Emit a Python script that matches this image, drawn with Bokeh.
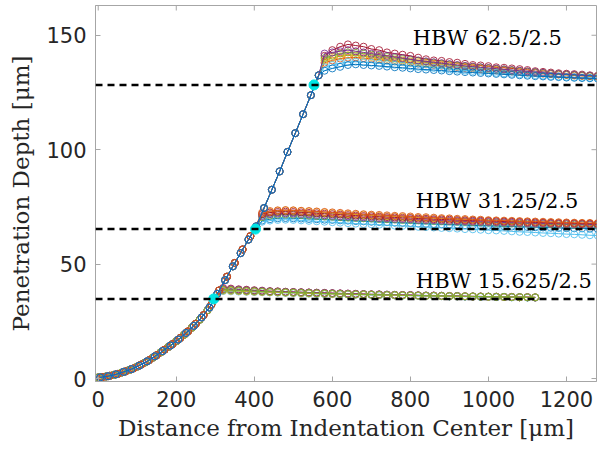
from bokeh.plotting import figure
from bokeh.models import FixedTicker, Range1d, Span
from bokeh.embed import file_html
from bokeh.resources import INLINE
from bokeh.core.properties import value

# ---------------- data ----------------
# loading curve read at three interleaved sample grids (one per test group)
RISE_X_A = list(range(0, 301, 20))            # 15.625 group
RISE_A = [0.5, 0.9, 1.6, 2.6, 3.8, 5.2, 7.0, 9.1, 11.4, 13.8, 16.3, 19.1, 22.2, 25.7, 29.8, 35.0]
RISE_X_B = list(range(10, 391, 20))           # 31.25 group
RISE_B = [0.6, 1.2, 2.0, 3.1, 4.4, 6.1, 8.0, 10.2, 12.6, 15.0, 17.7, 20.6, 23.9, 27.7, 32.3,
          38.5, 44.5, 50.5, 56.4, 62.2]
RISE_X_C = list(range(5, 566, 20))            # 62.5 group
RISE_C = [0.5, 1.0, 1.8, 2.9, 4.1, 5.6, 7.5, 9.7, 12.0, 14.4, 17.0, 19.9, 23.0, 26.7, 31.0,
          37.0, 43.0, 49.0, 54.8, 60.7, 66.5, 74.5, 82.5, 90.5, 99.0, 107.2, 115.5, 123.8, 132.5]

PLAT_X_15 = list(range(320, 1121, 20))
PLAT_X_31 = list(range(420, 1281, 20))
PLAT_X_62 = list(range(580, 1281, 20))

COLORS = {"blue": "#0072BD", "orange": "#D95319", "yellow": "#EDB120", "purple": "#7E2F8E",
          "green": "#77AC30", "lblue": "#4DBEEE", "red": "#A2142F"}

# HBW 15.625/2.5 plateau
P15 = {
    "blue":   [38.6, 38.5, 38.3, 38.2, 38.0, 37.9, 37.8, 37.7, 37.6, 37.5, 37.4, 37.3, 37.2, 37.1, 37.0, 36.9, 36.8, 36.8, 36.7, 36.6, 36.5, 36.5, 36.4, 36.3, 36.3, 36.2, 36.1, 36.1, 36.0, 35.9, 35.9, 35.8, 35.8, 35.7, 35.7, 35.6, 35.6, 35.5, 35.5, 35.4, 35.4],
    "orange": [39.0, 38.8, 38.6, 38.4, 38.3, 38.1, 38.0, 37.9, 37.8, 37.7, 37.6, 37.5, 37.4, 37.3, 37.2, 37.1, 37.0, 36.9, 36.8, 36.7, 36.7, 36.6, 36.5, 36.4, 36.4, 36.3, 36.2, 36.2, 36.1, 36.0, 36.0, 35.9, 35.9, 35.8, 35.8, 35.7, 35.6, 35.6, 35.5, 35.5, 35.4],
    "red":    [39.6, 39.3, 39.0, 38.8, 38.6, 38.4, 38.2, 38.1, 37.9, 37.8, 37.7, 37.6, 37.5, 37.4, 37.3, 37.2, 37.1, 37.0, 36.9, 36.8, 36.7, 36.6, 36.5, 36.5, 36.4, 36.3, 36.2, 36.2, 36.1, 36.0, 36.0, 35.9, 35.8, 35.8, 35.7, 35.7, 35.6, 35.6, 35.5, 35.5, 35.4],
    "purple": [39.2, 39.0, 38.8, 38.6, 38.4, 38.3, 38.1, 38.0, 37.9, 37.8, 37.7, 37.6, 37.5, 37.4, 37.3, 37.2, 37.1, 37.0, 36.9, 36.8, 36.8, 36.7, 36.6, 36.5, 36.5, 36.4, 36.3, 36.3, 36.2, 36.1, 36.1, 36.0, 35.9, 35.9, 35.8, 35.8, 35.7, 35.7, 35.6, 35.6, 35.5],
    "lblue":  [38.2, 38.1, 38.0, 37.9, 37.8, 37.7, 37.6, 37.5, 37.4, 37.3, 37.2, 37.1, 37.0, 36.9, 36.9, 36.8, 36.7, 36.6, 36.6, 36.5, 36.4, 36.4, 36.3, 36.2, 36.2, 36.1, 36.1, 36.0, 36.0, 35.9, 35.9, 35.8, 35.8, 35.7, 35.7, 35.6, 35.6, 35.5, 35.5, 35.4, 35.4],
    "yellow": [38.4, 38.3, 38.2, 38.0, 37.9, 37.8, 37.7, 37.6, 37.5, 37.4, 37.3, 37.2, 37.1, 37.0, 36.9, 36.9, 36.8, 36.7, 36.6, 36.6, 36.5, 36.4, 36.4, 36.3, 36.2, 36.2, 36.1, 36.1, 36.0, 36.0, 35.9, 35.9, 35.8, 35.8, 35.7, 35.7, 35.6, 35.6, 35.5, 35.5, 35.5],
    "green":  [38.8, 38.7, 38.5, 38.3, 38.2, 38.0, 37.9, 37.8, 37.7, 37.6, 37.5, 37.4, 37.3, 37.2, 37.1, 37.0, 36.9, 36.8, 36.8, 36.7, 36.6, 36.5, 36.5, 36.4, 36.3, 36.3, 36.2, 36.1, 36.1, 36.0, 36.0, 35.9, 35.9, 35.8, 35.8, 35.7, 35.7, 35.6, 35.6, 35.5, 35.5],
}

# HBW 31.25/2.5 plateau
P31 = {
    "blue":   [69.0, 69.6, 70.0, 70.1, 70.0, 69.9, 69.7, 69.6, 69.4, 69.3, 69.1, 69.0, 68.8, 68.7, 68.5, 68.4, 68.3, 68.1, 68.0, 67.9, 67.7, 67.6, 67.5, 67.4, 67.3, 67.2, 67.0, 66.9, 66.8, 66.7, 66.6, 66.5, 66.4, 66.3, 66.2, 66.1, 66.0, 65.9, 65.8, 65.7, 65.6, 65.6, 65.5, 65.4],
    "lblue":  [68.5, 69.0, 69.3, 69.4, 69.3, 69.1, 68.9, 68.7, 68.5, 68.3, 68.1, 67.9, 67.7, 67.5, 67.4, 67.2, 67.0, 66.8, 66.7, 66.5, 66.3, 66.2, 66.0, 65.8, 65.7, 65.5, 65.3, 65.2, 65.0, 64.8, 64.7, 64.5, 64.3, 64.1, 64.0, 63.8, 63.6, 63.5, 63.3, 63.1, 63.0, 62.8, 62.6, 62.5],
    "green":  [70.5, 71.2, 71.6, 71.7, 71.6, 71.4, 71.2, 71.0, 70.8, 70.7, 70.5, 70.3, 70.2, 70.0, 69.9, 69.7, 69.6, 69.5, 69.3, 69.2, 69.1, 69.0, 68.8, 68.7, 68.6, 68.5, 68.4, 68.3, 68.2, 68.1, 68.0, 67.9, 67.8, 67.7, 67.7, 67.6, 67.5, 67.4, 67.4, 67.3, 67.2, 67.2, 67.1, 67.0],
    "purple": [71.0, 71.8, 72.1, 72.2, 72.1, 71.9, 71.7, 71.5, 71.3, 71.1, 70.9, 70.8, 70.6, 70.4, 70.3, 70.1, 70.0, 69.8, 69.7, 69.6, 69.4, 69.3, 69.2, 69.0, 68.9, 68.8, 68.7, 68.6, 68.5, 68.4, 68.3, 68.2, 68.1, 68.0, 67.9, 67.8, 67.8, 67.7, 67.6, 67.5, 67.5, 67.4, 67.3, 67.3],
    "yellow": [72.0, 72.8, 73.3, 73.5, 73.4, 73.2, 73.0, 72.8, 72.6, 72.3, 72.1, 71.9, 71.7, 71.5, 71.3, 71.1, 70.9, 70.8, 70.6, 70.4, 70.3, 70.1, 70.0, 69.8, 69.7, 69.5, 69.4, 69.3, 69.1, 69.0, 68.9, 68.8, 68.7, 68.6, 68.5, 68.4, 68.3, 68.2, 68.1, 68.0, 67.9, 67.9, 67.8, 67.7],
    "red":    [71.8, 72.5, 72.8, 72.9, 72.8, 72.6, 72.4, 72.2, 72.0, 71.8, 71.6, 71.4, 71.2, 71.0, 70.9, 70.7, 70.5, 70.4, 70.2, 70.1, 69.9, 69.8, 69.6, 69.5, 69.4, 69.2, 69.1, 69.0, 68.9, 68.8, 68.7, 68.6, 68.5, 68.4, 68.3, 68.2, 68.1, 68.0, 67.9, 67.9, 67.8, 67.7, 67.7, 67.6],
    "orange": [72.5, 73.2, 73.5, 73.6, 73.5, 73.3, 73.2, 73.0, 72.8, 72.6, 72.4, 72.2, 72.0, 71.8, 71.6, 71.5, 71.3, 71.1, 71.0, 70.8, 70.6, 70.5, 70.3, 70.1, 70.0, 69.8, 69.7, 69.5, 69.4, 69.2, 69.1, 69.0, 68.9, 68.8, 68.7, 68.6, 68.5, 68.4, 68.3, 68.2, 68.1, 68.0, 68.0, 67.9],
}

# HBW 62.5/2.5 plateau
P62 = {
    "red":    [141.0, 143.5, 145.0, 146.0, 145.5, 145.0, 144.0, 143.5, 142.5, 142.0, 141.5, 141.0, 140.2, 139.5, 139.0, 138.8, 138.3, 138.0, 137.5, 137.0, 136.8, 136.5, 136.0, 135.8, 135.5, 135.2, 134.8, 134.3, 134.0, 133.7, 133.4, 133.2, 133.0, 132.8, 132.5, 132.3],
    "orange": [138.0, 139.0, 139.8, 140.2, 140.3, 140.0, 139.7, 139.3, 139.0, 138.6, 138.3, 138.0, 137.6, 137.3, 137.0, 136.7, 136.4, 136.1, 135.8, 135.5, 135.2, 135.0, 134.7, 134.4, 134.2, 134.0, 133.7, 133.5, 133.2, 133.0, 132.8, 132.6, 132.4, 132.2, 132.1, 131.9],
    "yellow": [139.0, 140.0, 140.8, 141.3, 141.2, 140.9, 140.5, 140.1, 139.7, 139.3, 139.0, 138.6, 138.2, 137.8, 137.5, 137.1, 136.8, 136.5, 136.2, 135.9, 135.6, 135.3, 135.0, 134.8, 134.5, 134.2, 134.0, 133.7, 133.5, 133.2, 133.0, 132.8, 132.6, 132.4, 132.2, 132.1],
    "green":  [140.0, 141.0, 142.0, 142.5, 142.3, 142.0, 141.5, 141.0, 140.5, 140.0, 139.6, 139.2, 138.8, 138.4, 138.0, 137.6, 137.2, 136.8, 136.5, 136.2, 135.9, 135.6, 135.3, 135.0, 134.7, 134.4, 134.1, 133.8, 133.5, 133.2, 133.0, 132.8, 132.6, 132.4, 132.2, 132.0],
    "lblue":  [136.0, 137.0, 137.8, 138.3, 138.4, 138.2, 138.0, 137.7, 137.4, 137.1, 136.8, 136.5, 136.2, 136.0, 135.7, 135.4, 135.1, 134.9, 134.6, 134.4, 134.1, 133.9, 133.6, 133.4, 133.2, 133.0, 132.8, 132.6, 132.4, 132.2, 132.0, 131.8, 131.7, 131.5, 131.4, 131.3],
    "purple": [142.0, 142.5, 143.0, 143.5, 143.0, 142.5, 142.0, 141.5, 141.0, 140.5, 140.0, 139.5, 139.0, 138.6, 138.2, 137.8, 137.4, 137.0, 136.6, 136.3, 136.0, 135.7, 135.4, 135.1, 134.8, 134.5, 134.2, 133.9, 133.6, 133.3, 133.1, 132.9, 132.7, 132.5, 132.3, 132.1],
    "blue":   [134.5, 135.5, 136.2, 137.0, 137.3, 137.0, 136.8, 136.6, 136.3, 136.0, 135.8, 135.5, 135.2, 135.0, 134.8, 134.6, 134.3, 134.1, 133.9, 133.7, 133.5, 133.3, 133.1, 132.9, 132.7, 132.5, 132.3, 132.1, 132.0, 131.8, 131.7, 131.5, 131.4, 131.3, 131.2, 131.1],
}

# transition points and reference depths
KEY_X = [296, 403, 553]
KEY_Y = [34.8, 65.3, 128.3]

LABELS = ["HBW 62.5/2.5", "HBW 31.25/2.5", "HBW 15.625/2.5"]
LABEL_X = [806, 814, 814]
LABEL_Y = [149, 77.5, 42.8]

X_TICKS = [0, 200, 400, 600, 800, 1000, 1200]
Y_TICKS = [0, 50, 100, 150]
X_MIN, X_MAX = -7, 1277
Y_MIN, Y_MAX = -1.3, 163

# ---------------- figure ----------------
AX_GRAY = "#a6a6a6"
TXT = "#262626"

p = figure(width=603, height=455, output_backend="svg", toolbar_location=None,
           x_range=Range1d(X_MIN, X_MAX), y_range=Range1d(Y_MIN, Y_MAX),
           min_border_left=95, min_border_right=7, min_border_top=5, min_border_bottom=74,
           background_fill_color="white", border_fill_color="white")
p.grid.visible = False
p.outline_line_color = AX_GRAY

for ax in (p.xaxis[0], p.yaxis[0]):
    ax.major_tick_in = 5
    ax.major_tick_out = 0
    ax.minor_tick_line_color = None
    ax.axis_line_color = AX_GRAY
    ax.major_tick_line_color = AX_GRAY
    ax.major_label_text_font = "DejaVu Sans"
    ax.major_label_text_font_size = "21px"
    ax.major_label_text_color = TXT
    ax.axis_label_text_font = "DejaVu Serif"
    ax.axis_label_text_font_size = "23px"
    ax.axis_label_text_font_style = "normal"
    ax.axis_label_text_color = TXT

p.xaxis.ticker = FixedTicker(ticks=X_TICKS)
p.yaxis.ticker = FixedTicker(ticks=Y_TICKS)
p.xaxis.axis_label = "Distance from Indentation Center [μm]"
p.yaxis.axis_label = "Penetration Depth [μm]"
p.xaxis.major_label_standoff = 9
p.yaxis.major_label_standoff = 9
p.xaxis.axis_label_standoff = 5
p.yaxis.axis_label_standoff = 9

def draw(xs, ys, color):
    p.line(xs, ys, line_color=color, line_width=1)
    p.scatter(xs, ys, marker="circle", size=7, fill_color=None, line_color=color,
              line_width=1, line_alpha=0.85)

for name, ys in P15.items():
    draw(RISE_X_A + PLAT_X_15, RISE_A + ys, COLORS[name])
for name, ys in P31.items():
    draw(RISE_X_B + PLAT_X_31, RISE_B + ys, COLORS[name])
for name, ys in P62.items():
    draw(RISE_X_C + PLAT_X_62, RISE_C + ys, COLORS[name])

for yv in KEY_Y:
    p.add_layout(Span(location=yv, dimension="width", line_color="black",
                      line_width=2.5, line_dash="7 5"))

p.scatter(KEY_X, KEY_Y, marker="circle", size=10, fill_color="#00E5E5", line_color="#00E5E5")

# inward ticks on the top and right edges of the box (half of each dash is clipped)
p.scatter(X_TICKS, [Y_MAX] * len(X_TICKS), marker="dash", angle=1.5708, size=10,
          line_color=AX_GRAY, line_width=1)
p.scatter([X_MAX] * len(Y_TICKS), Y_TICKS, marker="dash", size=10,
          line_color=AX_GRAY, line_width=1)

p.text(x=LABEL_X, y=LABEL_Y, text=LABELS, text_font=value("DejaVu Serif"),
       text_font_size="21px", text_align="left", text_baseline="alphabetic", text_color="black")

open("out.html", "w").write(file_html(p, INLINE))
